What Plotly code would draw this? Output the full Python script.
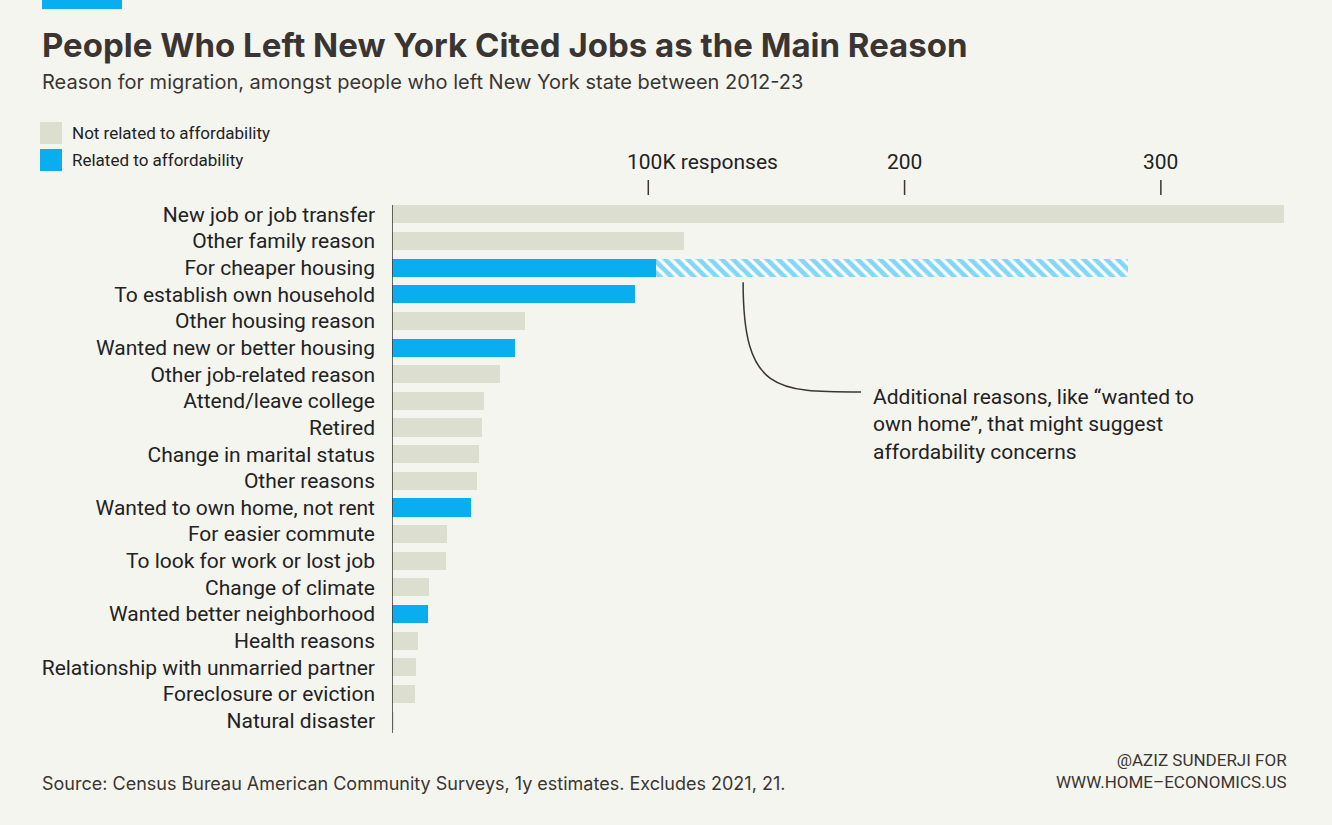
import plotly.graph_objects as go

reasons = [
    "New job or job transfer", "Other family reason", "For cheaper housing",
    "To establish own household", "Other housing reason", "Wanted new or better housing",
    "Other job-related reason", "Attend/leave college", "Retired",
    "Change in marital status", "Other reasons", "Wanted to own home, not rent",
    "For easier commute", "To look for work or lost job", "Change of climate",
    "Wanted better neighborhood", "Health reasons", "Relationship with unmarried partner",
    "Foreclosure or eviction", "Natural disaster",
]
responses = [348, 114, 103, 95, 52, 48, 42, 36, 35, 34, 33, 31, 21.5, 21, 14.5, 14, 10, 9.5, 9, 0.5]
affordability = [False, False, True, True, False, True, False, False, False, False,
                 False, True, False, False, False, True, False, False, False, False]
# extra "might suggest affordability" responses stacked on cheaper housing
extra_index = 2
extra_value = 184

tick_vals = [100, 200, 300]
tick_text = ["100K responses", "200", "300"]

GREY = "#dcdfd0"
BLUE = "#0aaef0"
BG = "#f5f5f0"
INK = "#3a3532"
LABEL_FONT = "Liberation Sans Narrow, Roboto, sans-serif"

W, H = 1332, 825
L, R, T, B = 392, 43, 201, 91
pw = W - L - R
ph = H - T - B
def px_x(p):
    return (p - L) / pw
def px_y(p):
    return 1 - (p - T) / ph

ypos = list(range(len(reasons)))
fig = go.Figure()
for flag, col in [(False, GREY), (True, BLUE)]:
    fig.add_trace(go.Bar(
        y=[y for y, a in zip(ypos, affordability) if a == flag],
        x=[v for v, a in zip(responses, affordability) if a == flag],
        orientation="h", marker_color=col, marker_line_width=0, width=0.68,
    ))
fig.add_trace(go.Bar(
    y=[extra_index], x=[extra_value], base=[responses[extra_index]],
    orientation="h", width=0.68,
    marker=dict(color="white", line_width=0,
                pattern=dict(shape="\\", fgcolor=BLUE, bgcolor="white", size=8, solidity=0.6)),
))

shapes = [
    dict(type="line", xref="x", yref="paper", x0=0, x1=0, y0=px_y(205), y1=px_y(733),
         line=dict(color=INK, width=1.5)),
    dict(type="rect", xref="paper", yref="paper", x0=px_x(42), x1=px_x(122), y0=px_y(9), y1=px_y(0),
         fillcolor=BLUE, line_width=0),
    dict(type="path", xref="x", yref="y",
         path="M 137,2.55 C 137,6.67 150,6.67 183,6.67", line=dict(color=INK, width=1.5)),
    dict(type="rect", xref="paper", yref="paper", x0=px_x(40), x1=px_x(62), y0=px_y(144), y1=px_y(122),
         fillcolor=GREY, line_width=0),
    dict(type="rect", xref="paper", yref="paper", x0=px_x(40), x1=px_x(62), y0=px_y(171), y1=px_y(149),
         fillcolor=BLUE, line_width=0),
]
annotations = []
for v, t in zip(tick_vals, tick_text):
    shapes.append(dict(type="line", xref="x", yref="paper", x0=v, x1=v, y0=px_y(180), y1=px_y(195),
                       line=dict(color=INK, width=1.5)))
    annotations.append(dict(x=v, y=px_y(162), xref="x", yref="paper", text=t, showarrow=False,
                            yanchor="middle",
                            xanchor="left" if v == 100 else "center", xshift=-23 if v == 100 else 0,
                            font=dict(size=21, color="#222", family=LABEL_FONT)))

annotations += [
    dict(x=px_x(40), y=px_y(45), xref="paper", yref="paper", xanchor="left", yanchor="middle",
         text="<b>People Who Left New York Cited Jobs as the Main Reason</b>", showarrow=False,
         font=dict(size=33, color=INK, family="Inter")),
    dict(x=px_x(40), y=px_y(82), xref="paper", yref="paper", xanchor="left", yanchor="middle",
         text="Reason for migration, amongst people who left New York state between 2012-23", showarrow=False,
         font=dict(size=20, color=INK, family="Inter")),
    dict(x=px_x(70), y=px_y(133), xref="paper", yref="paper", xanchor="left", yanchor="middle",
         text="Not related to affordability", showarrow=False,
         font=dict(size=17, color="#222", family=LABEL_FONT)),
    dict(x=px_x(70), y=px_y(160), xref="paper", yref="paper", xanchor="left", yanchor="middle",
         text="Related to affordability", showarrow=False,
         font=dict(size=17, color="#222", family=LABEL_FONT)),
    dict(x=183, y=px_y(424), xref="x", yref="paper", xanchor="left", yanchor="middle", align="left",
         xshift=10, showarrow=False,
         text="Additional reasons, like “wanted to<br>own home”, that might suggest<br>affordability concerns",
         font=dict(size=21, color="#222", family=LABEL_FONT)),
    dict(x=px_x(40), y=px_y(783), xref="paper", yref="paper", xanchor="left", yanchor="middle",
         text="Source: Census Bureau American Community Surveys, 1y estimates. Excludes 2021, 21.",
         showarrow=False, font=dict(size=18, color=INK, family="Inter")),
    dict(x=px_x(1289), y=px_y(771), xref="paper", yref="paper", xanchor="right", yanchor="middle", align="right",
         text="@AZIZ SUNDERJI FOR<br>WWW.HOME–ECONOMICS.US", showarrow=False,
         font=dict(size=17, color=INK, family=LABEL_FONT)),
]

fig.update_layout(
    width=W, height=H, margin=dict(l=L, r=R, t=T, b=B), showlegend=False,
    paper_bgcolor=BG, plot_bgcolor=BG, barmode="overlay", bargap=0,
    xaxis=dict(range=[0, 350], showgrid=False, zeroline=False, showticklabels=False, fixedrange=True),
    yaxis=dict(range=[len(reasons) - 0.5, -0.5], tickvals=ypos, ticktext=reasons, showgrid=False,
               zeroline=False, ticks="", ticklabelstandoff=16,
               tickfont=dict(size=21, color="#222", family=LABEL_FONT)),
    shapes=shapes, annotations=annotations,
)
fig.write_html("out.html", config={"displayModeBar": False},
               post_script="document.body.style.margin='0';")
